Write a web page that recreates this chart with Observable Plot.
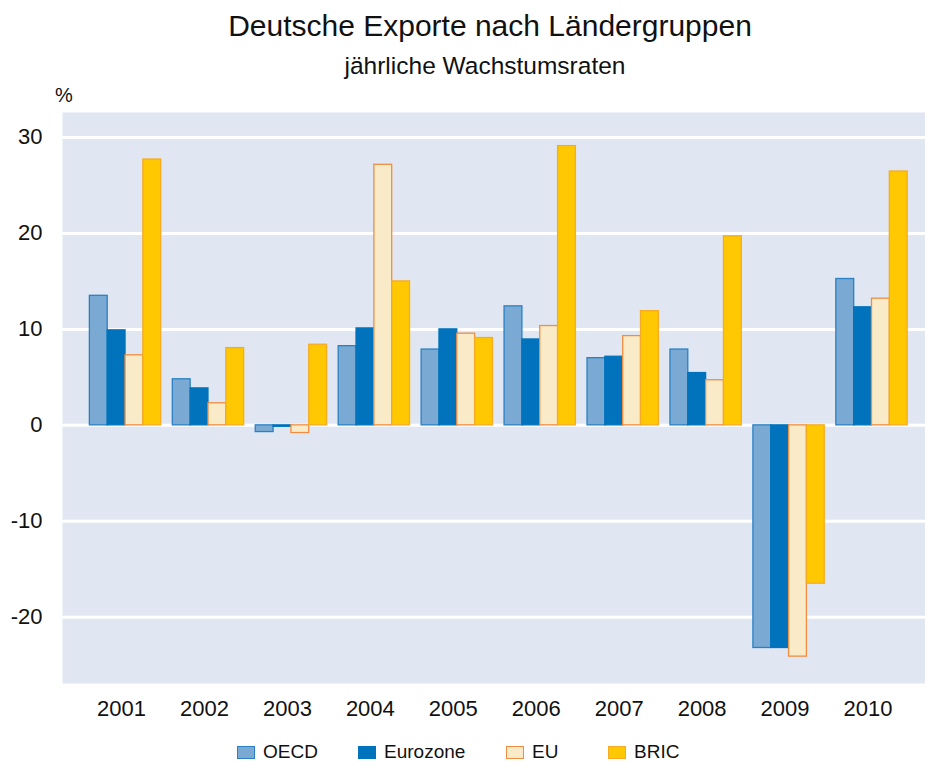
<!DOCTYPE html>
<html>
<head>
<meta charset="utf-8">
<script src="https://cdn.jsdelivr.net/npm/d3@7"></script>
<script src="https://cdn.jsdelivr.net/npm/@observablehq/plot@0.6"></script>
<style>
  html, body { margin: 0; padding: 0; background: #fff; }
  body { font-family: "Liberation Sans", Arial, Helvetica, sans-serif; color: #111; }
  #wrap { position: relative; width: 925px; height: 762px; overflow: hidden; }
  #wrap svg { position: absolute; left: 0; top: 0; }
  .ov { position: absolute; white-space: nowrap; z-index: 2; }
  #title { left: 55px; width: 870px; text-align: center; top: 11px; font-size: 30px; line-height: 30px; }
  #subtitle { left: 50px; width: 870px; text-align: center; top: 54px; font-size: 24.5px; line-height: 24.5px; }
  #unit { left: 55px; top: 85px; font-size: 20px; line-height: 20px; }
  .leg { position: absolute; top: 740px; height: 24px; display: flex; align-items: center; font-size: 19px; line-height: 24px; z-index: 2; }
  .sw { display: inline-block; width: 18px; height: 13px; box-sizing: border-box; border: 1.4px solid; margin-right: 8px; }
</style>
</head>
<body>
<div id="wrap">
  <div id="title" class="ov">Deutsche Exporte nach Ländergruppen</div>
  <div id="subtitle" class="ov">jährliche Wachstumsraten</div>
  <div id="unit" class="ov">%</div>
</div>
<script>
const years = [2001, 2002, 2003, 2004, 2005, 2006, 2007, 2008, 2009, 2010];
const seriesNames = ["OECD", "Eurozone", "EU", "BRIC"];
const oecd     = [13.5, 4.8, -0.7, 8.25, 7.9, 12.4, 7.0, 7.9, -23.2, 15.25];
const eurozone = [9.9, 3.85, -0.15, 10.1, 10.0, 8.95, 7.15, 5.45, -23.2, 12.3];
const eu       = [7.3, 2.3, -0.8, 27.15, 9.55, 10.35, 9.3, 4.7, -24.1, 13.2];
const bric     = [27.7, 8.05, 8.4, 15.0, 9.1, 29.1, 11.9, 19.7, -16.5, 26.45];
const yTicks = [-20, -10, 0, 10, 20, 30];

const fills   = ["#7aaad4", "#0073bc", "#faebc8", "#ffc801"];
const strokes = ["#2a80c2", "#0073bc", "#ef8d42", "#f6ab22"];

const seriesValues = [oecd, eurozone, eu, bric];
const data = years.flatMap((year, j) =>
  seriesNames.map((name, i) => ({ year, name, i, value: seriesValues[i][j] }))
);

const groupWidth = 0.86;
const barW = groupWidth / seriesNames.length;

const chart = Plot.plot({
  width: 925,
  height: 762,
  marginTop: 112,
  marginBottom: 79,
  marginLeft: 62,
  marginRight: 0,
  style: { fontFamily: "'Liberation Sans', Arial, Helvetica, sans-serif", fontSize: "22px", color: "#111", background: "transparent" },
  x: { domain: [2000.24, 2010.645], label: null },
  y: { domain: [-26.9, 32.6], label: null },
  color: { domain: seriesNames, range: fills },
  marks: [
    Plot.frame({ fill: "#e0e7f3", stroke: null }),
    Plot.ruleY(yTicks, { stroke: "#fff", strokeWidth: 3 }),
    Plot.rectY(data, {
      x1: d => d.year - groupWidth / 2 + d.i * barW,
      x2: d => d.year - groupWidth / 2 + (d.i + 1) * barW,
      y1: 0,
      y2: "value",
      fill: "name",
      stroke: d => strokes[d.i],
      strokeWidth: 1.3
    }),
    Plot.axisX({ ticks: years, tickFormat: d => String(d), tickSize: 0, tickPadding: 17, fontSize: 22, dx: -4 }),
    Plot.axisY({ ticks: yTicks, tickFormat: d => String(d), tickSize: 0, tickPadding: 20, fontSize: 22 })
  ]
});
const wrap = document.getElementById("wrap");
wrap.insertBefore(chart, wrap.firstChild);

// legend
const legLefts = [237, 358, 506, 608];
seriesNames.forEach((name, i) => {
  const item = document.createElement("div");
  item.className = "leg";
  item.style.left = legLefts[i] + "px";
  const sw = document.createElement("span");
  sw.className = "sw";
  sw.style.background = fills[i];
  sw.style.borderColor = strokes[i];
  item.appendChild(sw);
  const t = document.createElement("span");
  t.textContent = name;
  item.appendChild(t);
  wrap.appendChild(item);
});
</script>
</body>
</html>
